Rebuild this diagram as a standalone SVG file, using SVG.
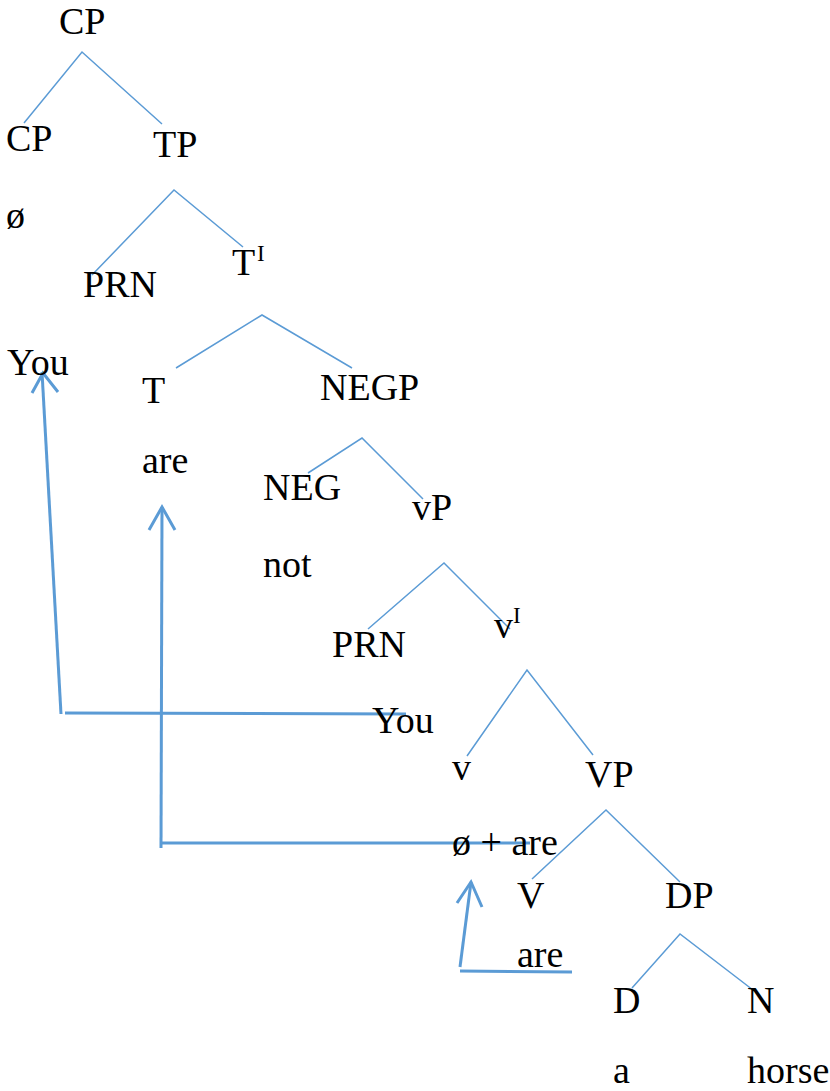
<svg xmlns="http://www.w3.org/2000/svg" width="830" height="1091" viewBox="0 0 830 1091">
<style>
.t{font-family:'Liberation Serif','Times New Roman',serif;font-size:38px;fill:#000}
.sup{font-size:23px}
.br{stroke:#5B9BD5;stroke-width:1.5;fill:none}
.mv{stroke:#5B9BD5;stroke-width:3;fill:none;stroke-linecap:butt}
</style>
<rect width="830" height="1091" fill="#fff"/>
<g id="connectors">
<polyline class="br" points="24,123 82,52 162,124"/>
<polyline class="br" points="92,275 174,190 243,247"/>
<polyline class="br" points="176,368 262,315 352,368"/>
<polyline class="br" points="308,473 362,438 423,499"/>
<polyline class="br" points="368,629 444,563 510,629"/>
<polyline class="br" points="467,756 527,670 593,755"/>
<polyline class="br" points="532,879 606,810 680,882"/>
<polyline class="br" points="632,988 680,934 753,990"/>
<g id="move-you">
<polyline class="mv" points="406,714 65,713"/>
<line class="mv" x1="61" y1="714" x2="42" y2="372"/>
<polyline class="mv" points="32,393 43,373 58,392"/>
</g>
<g id="move-are-t">
<polyline class="mv" points="530,843 161,843"/>
<line class="mv" x1="161" y1="848" x2="162" y2="507"/>
<polyline class="mv" points="149,530 162,507 175,530"/>
</g>
<g id="move-are-v">
<line class="mv" x1="460" y1="971" x2="572" y2="972"/>
<line class="mv" x1="460" y1="967" x2="471" y2="882"/>
<polyline class="mv" points="457,903 471,882 482,907"/>
</g>
</g>
<g class="t">
<g id="n-cp-root"><text x="59" y="34">CP</text></g>
<g id="n-cp"><text x="6" y="151">CP</text></g>
<g id="n-cp-null"><text x="6" y="228">ø</text></g>
<g id="n-tp"><text x="153" y="157">TP</text></g>
<g id="n-prn1"><text x="83" y="297">PRN</text></g>
<g id="n-you1"><text x="7" y="375">You</text></g>
<g id="n-tbar"><text x="232" y="275">T</text><text class="sup" x="257" y="261">I</text></g>
<g id="n-t"><text x="142" y="403">T</text></g>
<g id="n-are-t"><text x="142" y="473">are</text></g>
<g id="n-negp"><text x="320" y="400">NEGP</text></g>
<g id="n-neg"><text x="263" y="500">NEG</text></g>
<g id="n-not"><text x="263" y="577">not</text></g>
<g id="n-vp-small"><text x="412" y="520">vP</text></g>
<g id="n-prn2"><text x="332" y="657">PRN</text></g>
<g id="n-you2"><text x="372" y="733">You</text></g>
<g id="n-vbar"><text x="494" y="638">v</text><text class="sup" x="513" y="623">I</text></g>
<g id="n-v-small"><text x="452" y="780">v</text></g>
<g id="n-null-are"><text x="452" y="855">ø + are</text></g>
<g id="n-vp"><text x="585" y="787">VP</text></g>
<g id="n-v"><text x="517" y="908">V</text></g>
<g id="n-are-v"><text x="517" y="967">are</text></g>
<g id="n-dp"><text x="665" y="908">DP</text></g>
<g id="n-d"><text x="613" y="1013">D</text></g>
<g id="n-a"><text x="613" y="1083">a</text></g>
<g id="n-n"><text x="747" y="1013">N</text></g>
<g id="n-horse"><text x="747" y="1083">horse</text></g>
</g>
</svg>
